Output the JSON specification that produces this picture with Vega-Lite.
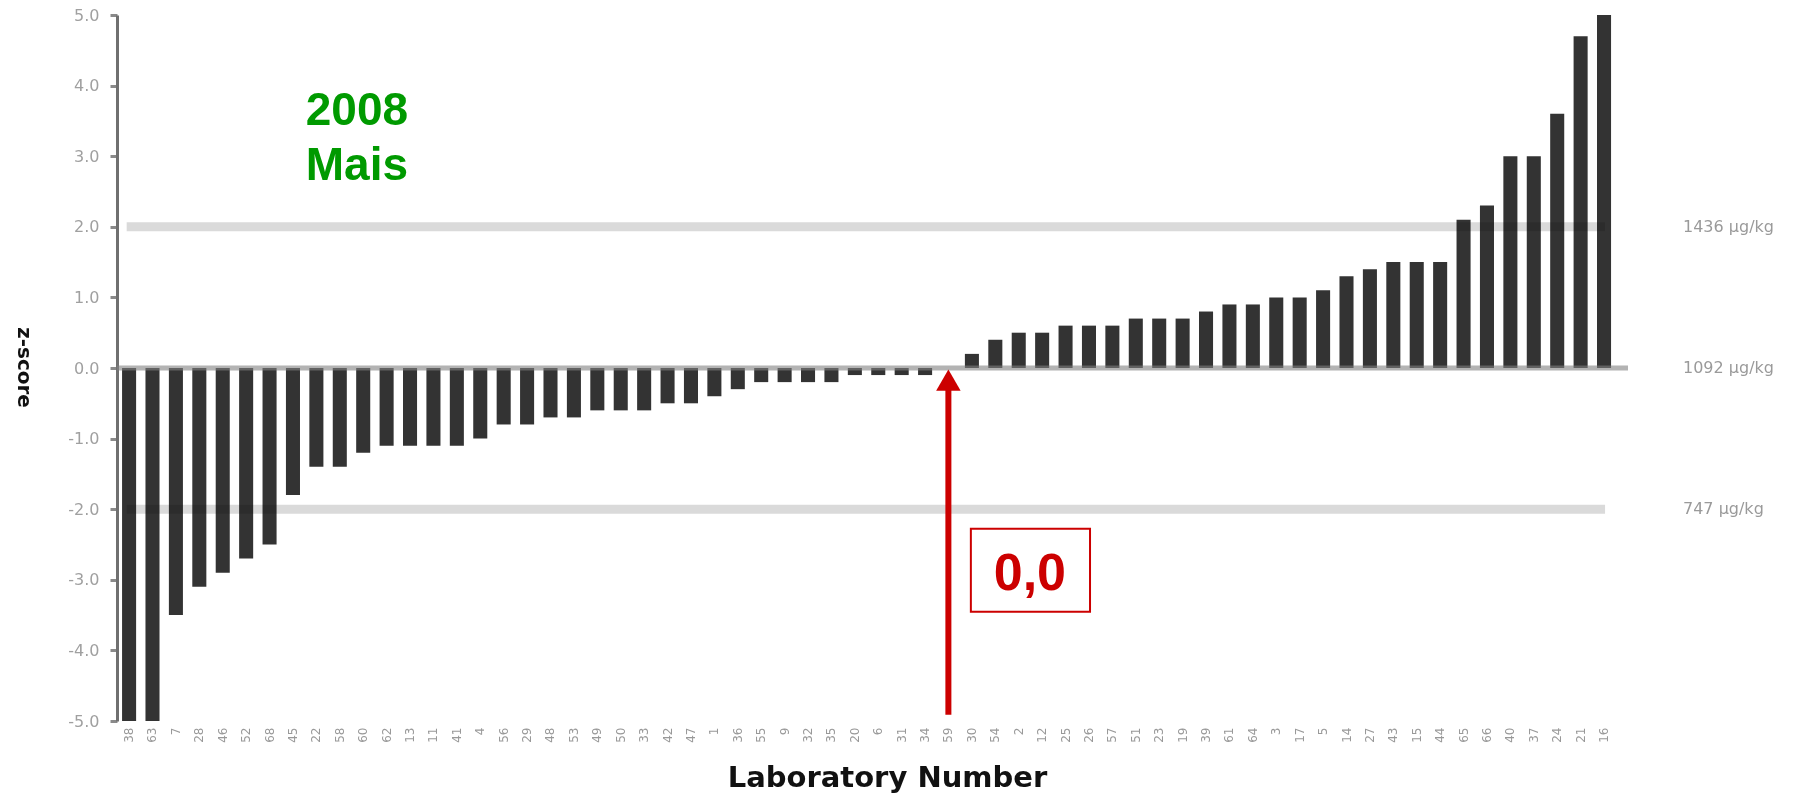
{
  "$schema": "https://vega.github.io/schema/vega-lite/v6.json",
  "width": 1511,
  "height": 706,
  "autosize": {"type": "none"},
  "padding": {"left": 117, "top": 15, "right": 186, "bottom": 72},
  "background": "white",
  "config": {"view": {"stroke": null}, "font": "DejaVu Sans"},
  "datasets": {
    "labs": [
      {"lab": "38", "z": -5.0}, {"lab": "63", "z": -5.0}, {"lab": "7", "z": -3.5}, {"lab": "28", "z": -3.1},
      {"lab": "46", "z": -2.9}, {"lab": "52", "z": -2.7}, {"lab": "68", "z": -2.5}, {"lab": "45", "z": -1.8},
      {"lab": "22", "z": -1.4}, {"lab": "58", "z": -1.4}, {"lab": "60", "z": -1.2}, {"lab": "62", "z": -1.1},
      {"lab": "13", "z": -1.1}, {"lab": "11", "z": -1.1}, {"lab": "41", "z": -1.1}, {"lab": "4", "z": -1.0},
      {"lab": "56", "z": -0.8}, {"lab": "29", "z": -0.8}, {"lab": "48", "z": -0.7}, {"lab": "53", "z": -0.7},
      {"lab": "49", "z": -0.6}, {"lab": "50", "z": -0.6}, {"lab": "33", "z": -0.6}, {"lab": "42", "z": -0.5},
      {"lab": "47", "z": -0.5}, {"lab": "1", "z": -0.4}, {"lab": "36", "z": -0.3}, {"lab": "55", "z": -0.2},
      {"lab": "9", "z": -0.2}, {"lab": "32", "z": -0.2}, {"lab": "35", "z": -0.2}, {"lab": "20", "z": -0.1},
      {"lab": "6", "z": -0.1}, {"lab": "31", "z": -0.1}, {"lab": "34", "z": -0.1}, {"lab": "59", "z": 0.0},
      {"lab": "30", "z": 0.2}, {"lab": "54", "z": 0.4}, {"lab": "2", "z": 0.5}, {"lab": "12", "z": 0.5},
      {"lab": "25", "z": 0.6}, {"lab": "26", "z": 0.6}, {"lab": "57", "z": 0.6}, {"lab": "51", "z": 0.7},
      {"lab": "23", "z": 0.7}, {"lab": "19", "z": 0.7}, {"lab": "39", "z": 0.8}, {"lab": "61", "z": 0.9},
      {"lab": "64", "z": 0.9}, {"lab": "3", "z": 1.0}, {"lab": "17", "z": 1.0}, {"lab": "5", "z": 1.1},
      {"lab": "14", "z": 1.3}, {"lab": "27", "z": 1.4}, {"lab": "43", "z": 1.5}, {"lab": "15", "z": 1.5},
      {"lab": "44", "z": 1.5}, {"lab": "65", "z": 2.1}, {"lab": "66", "z": 2.3}, {"lab": "40", "z": 3.0},
      {"lab": "37", "z": 3.0}, {"lab": "24", "z": 3.6}, {"lab": "21", "z": 4.7}, {"lab": "16", "z": 5.0}
    ],
    "zero": [{"z": 0}],
    "limits": [{"z": 2, "k1": 0.9, "k2": 64.05}, {"z": -2, "k1": 0.9, "k2": 64.05}],
    "limitLabels": [
      {"k": 67.38, "z": 2, "label": "1436 µg/kg"},
      {"k": 67.38, "z": 0, "label": "1092 µg/kg"},
      {"k": 67.38, "z": -2, "label": "747 µg/kg"}
    ],
    "caption": [{"k": 8.55, "z": 3.446, "t": "2008"}, {"k": 8.55, "z": 2.667, "t": "Mais"}],
    "arrow": [{"k": 36, "z1": -4.91, "z2": -0.3, "zt": -0.171}],
    "box": [{"k1": 36.96, "k2": 42.05, "z1": -2.276, "z2": -3.452, "kt": 39.48, "zt": -3.14, "t": "0,0"}]
  },
  "layer": [
    {
      "data": {"name": "labs"},
      "mark": {"type": "bar", "color": "#333333"},
      "encoding": {
        "x": {
          "field": "lab", "type": "nominal", "sort": null,
          "scale": {"paddingInner": 0.4, "paddingOuter": 0.47, "align": 0.23},
          "axis": {
            "title": "Laboratory Number", "labelAngle": -90, "labelFontSize": 12, "labelColor": "#999999",
            "labelPadding": 6, "domain": false, "ticks": false,
            "titleFont": "DejaVu Sans", "titleFontSize": 29, "titleFontWeight": "bold", "titleColor": "#111111",
            "titleX": 770, "titleY": 65, "titleBaseline": "alphabetic", "titleAlign": "center"
          }
        },
        "y": {
          "field": "z", "type": "quantitative",
          "scale": {"domain": [-5, 5], "nice": false},
          "axis": {
            "title": "z-score", "titleAngle": 90, "titleX": -94, "titleY": 352, "titleAlign": "center",
            "titleBaseline": "middle", "titleFontSize": 20, "titleFontWeight": "bold", "titleColor": "#111111",
            "values": [-5, -4, -3, -2, -1, 0, 1, 2, 3, 4, 5],
            "labelExpr": "replace(format(datum.value, '.1f'), '\u2212', '-')",
            "labelFontSize": 16, "labelColor": "#a0a0a0", "labelPadding": 11,
            "tickSize": 7, "tickWidth": 3, "tickColor": "#8a8a8a",
            "domainColor": "#707070", "domainWidth": 3, "grid": false
          }
        }
      }
    },
    {
      "data": {"name": "zero"},
      "mark": {"type": "rule", "color": "#808080", "strokeWidth": 5, "opacity": 0.6},
      "encoding": {
        "y": {"field": "z", "type": "quantitative", "scale": {"domain": [-5, 5], "nice": false}, "axis": null}
      }
    },
    {
      "data": {"name": "limits"},
      "mark": {"type": "rule", "color": "#dadada", "strokeWidth": 9, "blend": "multiply"},
      "encoding": {
        "x": {"field": "k1", "type": "quantitative", "scale": {"domain": [0.487, 65.03], "nice": false, "zero": false}, "axis": null},
        "x2": {"field": "k2"},
        "y": {"field": "z", "type": "quantitative", "scale": {"domain": [-5, 5], "nice": false}, "axis": null}
      }
    },
    {
      "data": {"name": "limitLabels"},
      "mark": {"type": "text", "align": "left", "baseline": "middle", "font": "DejaVu Sans", "fontSize": 16, "color": "#9a9a9a"},
      "encoding": {
        "x": {"field": "k", "type": "quantitative", "scale": {"domain": [0.487, 65.03], "nice": false, "zero": false}, "axis": null},
        "y": {"field": "z", "type": "quantitative", "scale": {"domain": [-5, 5], "nice": false}, "axis": null},
        "text": {"field": "label"}
      }
    },
    {
      "data": {"name": "caption"},
      "mark": {"type": "text", "align": "left", "baseline": "alphabetic", "font": "Liberation Sans", "fontWeight": "bold", "fontSize": 46, "color": "#009a00"},
      "encoding": {
        "x": {"field": "k", "type": "quantitative", "scale": {"domain": [0.487, 65.03], "nice": false, "zero": false}, "axis": null},
        "y": {"field": "z", "type": "quantitative", "scale": {"domain": [-5, 5], "nice": false}, "axis": null},
        "text": {"field": "t"}
      }
    },
    {
      "data": {"name": "arrow"},
      "mark": {"type": "rule", "color": "#cc0000", "strokeWidth": 6},
      "encoding": {
        "x": {"field": "k", "type": "quantitative", "scale": {"domain": [0.487, 65.03], "nice": false, "zero": false}, "axis": null},
        "y": {"field": "z1", "type": "quantitative", "scale": {"domain": [-5, 5], "nice": false}, "axis": null},
        "y2": {"field": "z2"}
      }
    },
    {
      "data": {"name": "arrow"},
      "mark": {"type": "point", "shape": "triangle-up", "filled": true, "size": 600, "color": "#cc0000", "opacity": 1},
      "encoding": {
        "x": {"field": "k", "type": "quantitative", "scale": {"domain": [0.487, 65.03], "nice": false, "zero": false}, "axis": null},
        "y": {"field": "zt", "type": "quantitative", "scale": {"domain": [-5, 5], "nice": false}, "axis": null}
      }
    },
    {
      "data": {"name": "box"},
      "mark": {"type": "rect", "fill": "white", "stroke": "#cc0000", "strokeWidth": 2},
      "encoding": {
        "x": {"field": "k1", "type": "quantitative", "scale": {"domain": [0.487, 65.03], "nice": false, "zero": false}, "axis": null},
        "x2": {"field": "k2"},
        "y": {"field": "z1", "type": "quantitative", "scale": {"domain": [-5, 5], "nice": false}, "axis": null},
        "y2": {"field": "z2"}
      }
    },
    {
      "data": {"name": "box"},
      "mark": {"type": "text", "align": "center", "baseline": "alphabetic", "font": "Liberation Sans", "fontWeight": "bold", "fontSize": 52, "color": "#cc0000"},
      "encoding": {
        "x": {"field": "kt", "type": "quantitative", "scale": {"domain": [0.487, 65.03], "nice": false, "zero": false}, "axis": null},
        "y": {"field": "zt", "type": "quantitative", "scale": {"domain": [-5, 5], "nice": false}, "axis": null},
        "text": {"field": "t"}
      }
    }
  ],
  "resolve": {"scale": {"x": "independent"}, "axis": {"y": "independent"}}
}
